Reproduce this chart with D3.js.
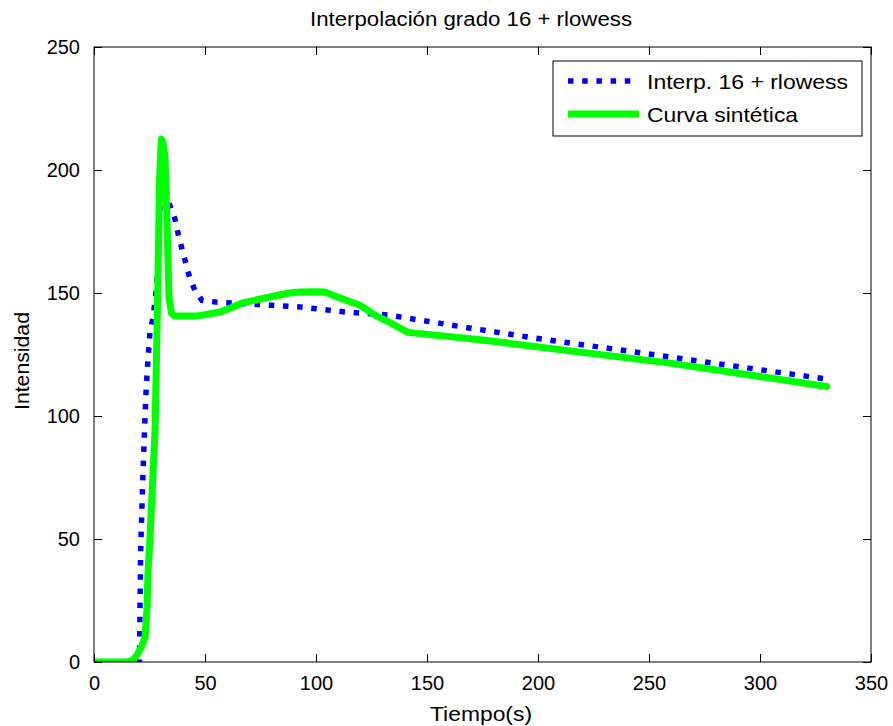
<!DOCTYPE html>
<html>
<head>
<meta charset="utf-8">
<script src="https://cdn.jsdelivr.net/npm/d3@7"></script>
<style>
  html, body { margin: 0; padding: 0; background: #fff; }
  svg { display: block; font-family: "Liberation Sans", Arial, sans-serif; }
</style>
</head>
<body>
<svg id="chart" width="893" height="726"></svg>
<script>
// Tiempo (s) / intensidad de la curva interpolada (grado 16 + rlowess)
const interpT = [0, 10, 20.5, 20.7, 21, 22, 23, 23.5, 24.3, 25.2, 26.6, 28.4, 29.5, 30.5, 31.3, 32.5, 34, 36.5, 38, 39.6, 41.4, 43, 45.5, 48.6, 55, 65, 80, 93, 113, 133, 146.6, 169, 200, 259.5, 330];
const interpI = [0, 0, 0, 20, 45, 75, 100, 111, 123, 134, 140, 154, 180, 202, 200, 192, 186, 180, 173.6, 168, 162, 156.5, 151, 147, 146.3, 145.8, 145, 144.3, 142.3, 141, 139, 135.8, 131.5, 124, 115];

// Curva sintética
const synthT = [0, 15, 17.5, 19.5, 21.5, 23, 23.9, 24.3, 25.2, 26.5, 27.5, 28.8, 29.5, 30.3, 31, 32, 33, 33.8, 35, 36.5, 45, 49, 56.8, 62.6, 67, 82.4, 88, 93, 100, 104, 110.8, 119.8, 126.6, 133.3, 141.4, 174, 259.5, 330];
const synthI = [0, 0, 0.8, 3, 6.5, 10, 22, 36, 50, 75, 94, 155, 195, 212.5, 211.5, 205, 175, 148, 141.5, 140.6, 140.6, 141, 142.3, 144.3, 146, 149, 150, 150.4, 150.5, 150.4, 148, 145, 141, 138, 134, 131, 121.5, 112];

const xTicks = [0, 50, 100, 150, 200, 250, 300, 350];
const yTicks = [0, 50, 100, 150, 200, 250];
const seriesNames = ["Interp. 16 + rlowess", "Curva sintética"];
const titleText = "Interpolación grado 16 + rlowess";
const xLabel = "Tiempo(s)";
const yLabel = "Intensidad";

const svg = d3.select("#chart");
const m = { left: 94, right: 871, top: 47, bottom: 662 };
const x = d3.scaleLinear().domain([0, 350]).range([m.left, m.right]);
const y = d3.scaleLinear().domain([0, 250]).range([m.bottom, m.top]);

const fontSize = 20;
const tickLen = 8;

// Plot area clip
svg.append("defs").append("clipPath").attr("id", "plotclip")
  .append("rect").attr("x", m.left).attr("y", m.top)
  .attr("width", m.right - m.left).attr("height", m.bottom - m.top);

const line = d3.line().x(d => x(d[0])).y(d => y(d[1]));
const interpData = interpT.map((t, i) => [t, interpI[i]]);
const synthData = synthT.map((t, i) => [t, synthI[i]]);

const plot = svg.append("g").attr("clip-path", "url(#plotclip)");
plot.append("path").datum(interpData)
  .attr("d", line).attr("fill", "none")
  .attr("stroke", "#0000ff").attr("stroke-width", 5.5)
  .attr("stroke-dasharray", "5.5 8.7").attr("stroke-linejoin", "miter");
plot.append("path").datum(synthData)
  .attr("d", line).attr("fill", "none")
  .attr("stroke", "#00ff00").attr("stroke-width", 7)
  .attr("stroke-linejoin", "round").attr("stroke-linecap", "round");

// Axes with inward ticks on all four sides
const axG = svg.append("g").attr("stroke", "#000").attr("fill", "none");
axG.append("rect").attr("x", m.left).attr("y", m.top)
  .attr("width", m.right - m.left).attr("height", m.bottom - m.top)
  .attr("stroke-width", 1);

const xb = d3.axisBottom(x).tickValues(xTicks).tickSize(-tickLen).tickPadding(tickLen + 6).tickFormat(d3.format("d"));
const xt = d3.axisTop(x).tickValues(xTicks).tickSize(-tickLen).tickFormat("");
const yl = d3.axisLeft(y).tickValues(yTicks).tickSize(-tickLen).tickPadding(tickLen + 6).tickFormat(d3.format("d"));
const yr = d3.axisRight(y).tickValues(yTicks).tickSize(-tickLen).tickFormat("");

function styleAxis(g) {
  g.select(".domain").remove();
  g.selectAll("line").attr("stroke", "#000");
  g.selectAll("text").attr("fill", "#000").attr("font-size", fontSize)
    .attr("font-family", "'Liberation Sans', Arial, sans-serif");
}
svg.append("g").attr("transform", `translate(0,${m.bottom})`).call(xb).call(styleAxis);
svg.append("g").attr("transform", `translate(0,${m.top})`).call(xt).call(styleAxis);
svg.append("g").attr("transform", `translate(${m.left},0)`).call(yl).call(styleAxis);
svg.append("g").attr("transform", `translate(${m.right},0)`).call(yr).call(styleAxis);

// Title and axis labels
svg.append("text").attr("x", 471).attr("y", 26)
  .attr("text-anchor", "middle").attr("font-size", 20)
  .attr("textLength", 322).attr("lengthAdjust", "spacingAndGlyphs").text(titleText);
svg.append("text").attr("x", 481).attr("y", 721)
  .attr("text-anchor", "middle").attr("font-size", 21)
  .attr("textLength", 102).attr("lengthAdjust", "spacingAndGlyphs").text(xLabel);
svg.append("text").attr("transform", `translate(29,361) rotate(-90)`)
  .attr("text-anchor", "middle").attr("font-size", 21)
  .attr("textLength", 98).attr("lengthAdjust", "spacingAndGlyphs").text(yLabel);

// Legend
const lg = svg.append("g");
lg.append("rect").attr("x", 553).attr("y", 61).attr("width", 309).attr("height", 75)
  .attr("fill", "#fff").attr("stroke", "#000").attr("stroke-width", 1);
lg.append("line").attr("x1", 568).attr("x2", 636).attr("y1", 81).attr("y2", 81)
  .attr("stroke", "#0000ff").attr("stroke-width", 5.5).attr("stroke-dasharray", "5.5 8.7");
lg.append("line").attr("x1", 568).attr("x2", 639).attr("y1", 114).attr("y2", 114)
  .attr("stroke", "#00ff00").attr("stroke-width", 7);
lg.append("text").attr("x", 647).attr("y", 89).attr("font-size", 21)
  .attr("textLength", 201).attr("lengthAdjust", "spacingAndGlyphs").text(seriesNames[0]);
lg.append("text").attr("x", 647).attr("y", 122).attr("font-size", 21)
  .attr("textLength", 151).attr("lengthAdjust", "spacingAndGlyphs").text(seriesNames[1]);
</script>
</body>
</html>
